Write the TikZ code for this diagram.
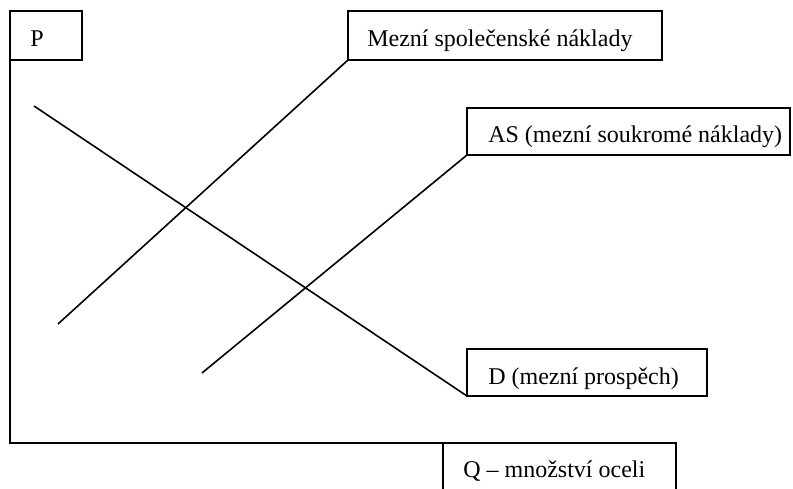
\documentclass[tikz,border=0pt]{standalone}
\usepackage{fontspec}
\setmainfont{Liberation Serif}
\begin{document}
\begin{tikzpicture}[x=0.75pt,y=-0.75pt,
  box/.style={draw,line width=1.3pt,outer sep=0pt,inner sep=0pt,anchor=north west},
  curve/.style={line width=1.2pt},
  axis/.style={line width=1.3pt},
  lbl/.style={anchor=base west,inner sep=0pt,font=\fontsize{18}{21}\selectfont}]
\useasboundingbox (0,0) rectangle (793,489);
\clip (0,0) rectangle (793,489);

% label boxes
\node[box,minimum width=54pt,minimum height=36.75pt] (pbox) at (10,11) {};
\node[box,minimum width=235.5pt,minimum height=36.75pt] (msn) at (348,11) {};
\node[box,minimum width=242.25pt,minimum height=35.25pt] (as) at (467,108) {};
\node[box,minimum width=180pt,minimum height=35.25pt] (d) at (467,349) {};
\node[box,minimum width=174.75pt,minimum height=45pt] (q) at (443,443) {};

% box texts
\node[lbl] (tp) at (30,46) {P};
\node[lbl] (tmsn) at (367,46) {Mezní společenské náklady};
\node[lbl] (tas) at (488,142) {AS (mezní soukromé náklady)};
\node[lbl] (td) at (488,384) {D (mezní prospěch)};
\node[lbl] (tq) at (463,477) {Q – množství oceli};

% axes
\coordinate (corner) at (pbox.south west |- q.north);
\draw[axis] (pbox.south west) -- (corner) -- (q.north east);

% curves
\coordinate (dstart) at (34,106);
\coordinate (msnstart) at (58,324);
\coordinate (asstart) at (202,373);
\draw[curve] (dstart) -- (d.south west);
\draw[curve] (msnstart) -- (msn.south west);
\draw[curve] (asstart) -- (as.south west);
\end{tikzpicture}
\end{document}
